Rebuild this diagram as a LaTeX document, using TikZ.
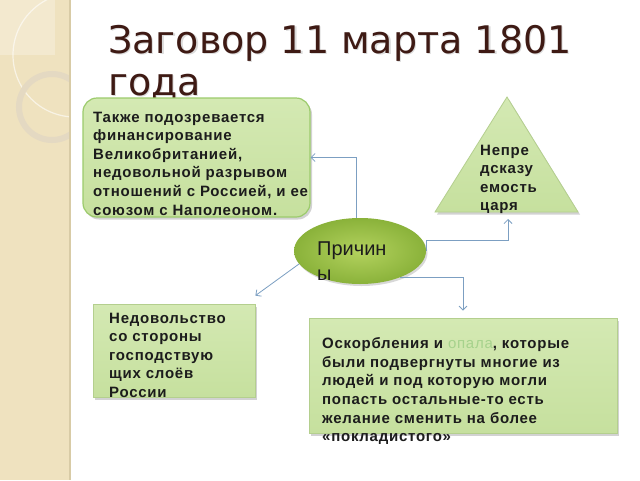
\documentclass[tikz,border=0pt]{standalone}
\usepackage{fontspec}
\setmainfont{Liberation Sans}
\newfontfamily\titlefont{DejaVu Sans}
\newfontfamily\bodyfont[LetterSpace=5]{Liberation Sans}
\usetikzlibrary{shapes.geometric,arrows.meta,shadows,calc}
\definecolor{strip}{HTML}{EFE2BF}
\definecolor{stripline}{HTML}{D8CBA6}
\definecolor{ringc}{HTML}{E4D9C2}
\definecolor{titlebrown}{HTML}{3E1A14}
\definecolor{boxfill}{HTML}{D4E9B3}
\definecolor{boxfillb}{HTML}{C6E09E}
\definecolor{boxedge}{HTML}{9CCB6C}
\definecolor{boxedgeb}{HTML}{B4CF8E}
\definecolor{ellin}{HTML}{B3D25E}
\definecolor{ellout}{HTML}{8AB23A}
\definecolor{conncol}{HTML}{7C9FC2}
\definecolor{opal}{HTML}{A6D28C}
\definecolor{txt}{HTML}{1C1C1C}
\tikzset{
  boxbase/.style={top color=boxfill, bottom color=boxfillb, inner sep=0pt,
    drop shadow={opacity=0.35, shadow xshift=2pt, shadow yshift=-2.5pt}},
  roundbox/.style={boxbase, draw=boxedge, line width=1.2pt, rounded corners=14pt},
  flatbox/.style={boxbase, draw=boxedgeb, line width=0.8pt},
  bodytext/.style={anchor=north west, inner sep=0pt, align=left, text=txt,
    font=\bodyfont\bfseries\fontsize{15}{18.6}\selectfont},
  conn/.style={draw=conncol, line width=0.8pt, -{Straight Barb[length=4pt,width=8pt]}},
}
\begin{document}
\begin{tikzpicture}[x=1pt,y=-1pt]
\useasboundingbox (0,0) rectangle (640,480);
\fill[white] (0,0) rectangle (640,480);
% left decorative strip
\fill[strip] (0,0) rectangle (69,480);
\fill[white,opacity=0.25] (0,0) rectangle (55,55);
\begin{scope}
\clip (0,0) rectangle (69,480);
\draw[white,opacity=0.6,line width=1.2pt] (75,55) circle (62);
\draw[ringc,line width=6pt] (52,107) circle (33);
\end{scope}
\draw[stripline,line width=1.2pt] (70,0) -- (70,480);
% title
\node[anchor=north west, inner sep=0pt, align=left, text=black!40, opacity=0.35,
  font=\titlefont\fontsize{38}{42}\selectfont] (titleshadow) at (109.2,26.2) {Заговор 11 марта 1801\\года};
\node[anchor=north west, inner sep=0pt, align=left, text=titlebrown,
  font=\titlefont\fontsize{38}{42}\selectfont] (title) at (108,25) {Заговор 11 марта 1801\\года};
% boxes
\node[roundbox, minimum width=227pt, minimum height=119pt] (why) at (196.5,157.5) {};
\node[bodytext] (whytext) at (93,111.5) {Также подозревается\\финансирование\\Великобританией,\\недовольной разрывом\\отношений с Россией, и ее\\союзом с Наполеоном.};
\path[boxbase, draw=boxedgeb, line width=0.8pt] (507,97) -- (578,212) -- (435,212) -- cycle;
\coordinate (tribase) at (508,212);
\node[bodytext] (tritext) at (480,144.5) {Непре\\дсказу\\емость\\царя};
\node[flatbox, minimum width=162pt, minimum height=93pt] (disc) at (174,350.5) {};
\node[bodytext] (disctext) at (109,312.5) {Недовольство\\со стороны\\господствую\\щих слоёв\\России};
\node[flatbox, minimum width=308pt, minimum height=115pt] (insult) at (463,375.5) {};
\node[bodytext] (insulttext) at (322,337.5) {Оскорбления и {\mdseries\color{opal}опала}, которые\\были подвергнуты многие из\\людей и под которую могли\\попасть остальные-то есть\\желание сменить на более\\«покладистого»};
% ellipse
\node[ellipse, minimum width=132pt, minimum height=66pt, inner sep=0pt,
  inner color=ellin, outer color=ellout,
  drop shadow={opacity=0.3, shadow xshift=1.5pt, shadow yshift=-2pt}] (ell) at (360,251) {};
\node[anchor=north west, inner sep=0pt, align=left, text=txt,
  font=\fontsize{20}{25}\selectfont] (elltext) at (317,242) {Причин\\ы};
% connectors
\draw[conn] ([xshift=-4pt]ell.north) |- (why.east);
\draw[conn] (ell.east) -- ++(0,-11) -| ([yshift=-7pt]tribase);
\draw[conn] (ell.-33) -| ([yshift=7pt]insult.north);
\draw[conn] (ell.192) -- ([yshift=8pt]disc.north east);
\end{tikzpicture}
\end{document}
